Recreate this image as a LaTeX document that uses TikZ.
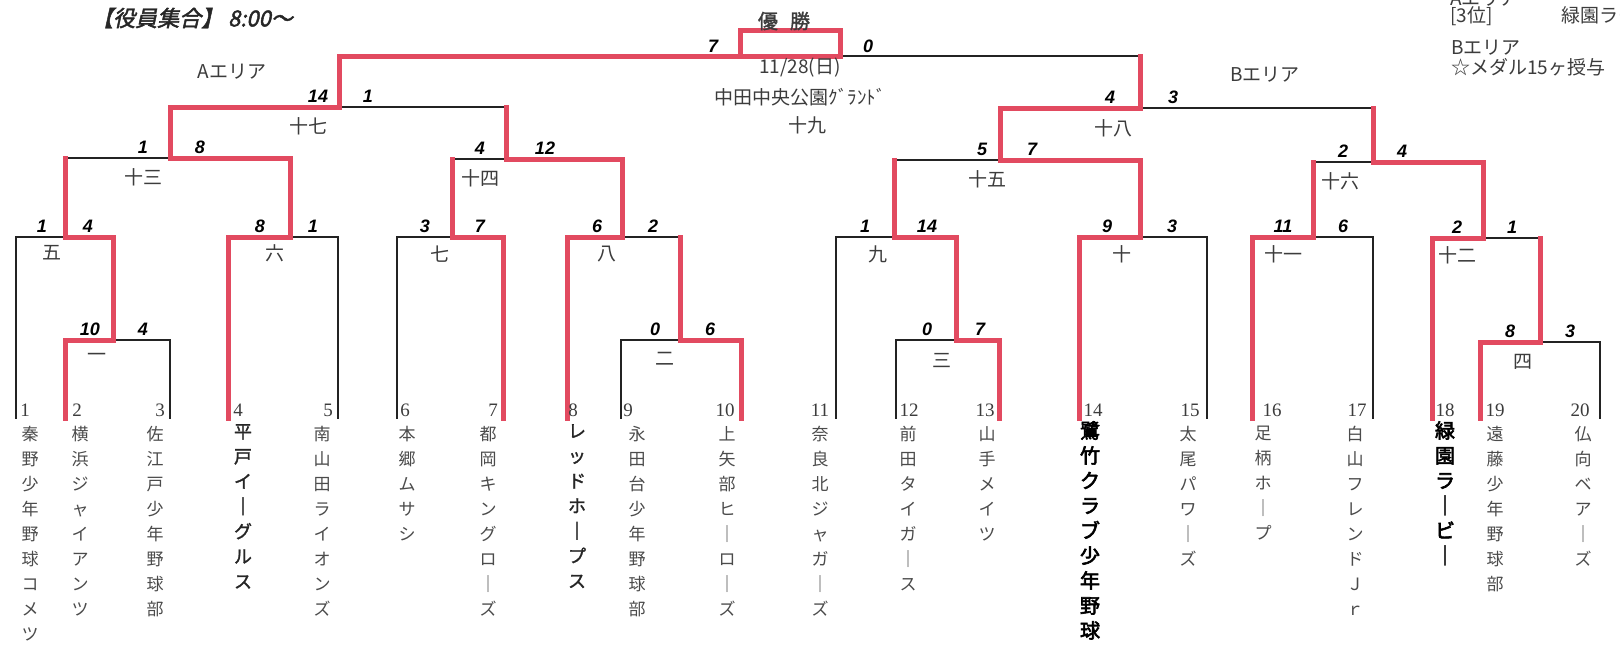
\documentclass[tikz,border=0pt]{standalone}
\usepackage{fontspec}
\setmainfont{Liberation Serif}
\newfontfamily\jp{Noto Sans CJK JP}
\newfontfamily\jpm[FakeBold=1.5]{Noto Sans CJK JP}
\newfontfamily\jpb[FakeBold=3]{Noto Sans CJK JP}
\newfontfamily\jpi[FakeSlant=0.22,FakeBold=2]{Noto Sans CJK JP}
\newfontfamily\scorefont{Liberation Sans}
\definecolor{bred}{RGB}{226,74,96}
\definecolor{lineblack}{RGB}{35,35,35}
\definecolor{txtgray}{RGB}{60,60,60}
\definecolor{namegray}{RGB}{75,75,75}
\newcommand\mdef[5]{\coordinate (#1L) at (#3,#2); \coordinate (#1S) at (#4,#2); \coordinate (#1R) at (#5,#2);}
\begin{document}
\begin{tikzpicture}[x=1pt,y=-1pt,
  bl/.style={draw=lineblack,line width=2pt,line cap=rect},
  rd/.style={draw=bred,line width=5pt,line cap=rect},
  score/.style={font=\scorefont\bfseries\itshape\fontsize{18}{18}\selectfont,text=black,inner sep=0pt},
  mlab/.style={font=\jp\fontsize{19}{19}\selectfont,text=txtgray,inner sep=0pt},
  tnum/.style={font=\fontsize{19}{19}\selectfont,text=txtgray,inner sep=0pt},
  team/.style={anchor=north,align=center,inner sep=0pt,font=\jp\fontsize{17}{25}\selectfont,text=namegray},
  teamm/.style={team,font=\jpm\fontsize{18}{25}\selectfont,text=black!85},
  teamb/.style={team,font=\jpb\fontsize{20}{25}\selectfont,text=black},
  info/.style={font=\jp\fontsize{19}{19}\selectfont,text=txtgray,inner sep=0pt},
]
\useasboundingbox (0,0) rectangle (1620,653);
\clip (0,0) rectangle (1620,653);
\fill[white] (0,0) rectangle (1620,653);

% ---------- match coordinates ----------
\mdef{m1}{340}{65}{113}{170}
\mdef{m2}{340}{621}{680}{741}
\mdef{m3}{340}{896}{956}{999}
\mdef{m4}{342}{1480}{1540}{1600}
\mdef{m5}{237}{16}{65}{113}
\mdef{m6}{237}{228}{290}{338}
\mdef{m7}{237}{397}{452}{503}
\mdef{m8}{237}{567}{622}{680}
\mdef{m9}{237}{836}{894}{956}
\mdef{m10}{237}{1079}{1140}{1207}
\mdef{m11}{237}{1252}{1313}{1373}
\mdef{m12}{238}{1432}{1483}{1540}
\mdef{m13}{158}{65}{170}{290}
\mdef{m14}{159}{452}{506}{622}
\mdef{m15}{160}{894}{1000}{1140}
\mdef{m16}{162}{1313}{1373}{1483}
\mdef{m17}{107}{170}{339}{506}
\mdef{m18}{108}{1000}{1140}{1373}
\coordinate (fL) at (339,56);
\coordinate (fR) at (1140,56);
\coordinate (bxA) at (740,56);
\coordinate (bxB) at (740,30);
\coordinate (bxC) at (840,30);
\coordinate (bxD) at (840,56);
\coordinate (bot) at (0,418);
% team line ends
\coordinate (T1) at (m5L |- bot);
\coordinate (T2) at (m1L |- bot);
\coordinate (T3) at (m1R |- bot);
\coordinate (T4) at (m6L |- bot);
\coordinate (T5) at (m6R |- bot);
\coordinate (T6) at (m7L |- bot);
\coordinate (T7) at (m7R |- bot);
\coordinate (T8) at (m8L |- bot);
\coordinate (T9) at (m2L |- bot);
\coordinate (T10) at (m2R |- bot);
\coordinate (T11) at (m9L |- bot);
\coordinate (T12) at (m3L |- bot);
\coordinate (T13) at (m3R |- bot);
\coordinate (T14) at (m10L |- bot);
\coordinate (T15) at (m10R |- bot);
\coordinate (T16) at (m11L |- bot);
\coordinate (T17) at (m11R |- bot);
\coordinate (T18) at (m12L |- bot);
\coordinate (T19) at (m4L |- bot);
\coordinate (T20) at (m4R |- bot);

% ---------- black (losing) lines ----------
\foreach \a/\b in {T1/m5L,T3/m1R,T5/m6R,T6/m7L,T9/m2L,T11/m9L,T12/m3L,T15/m10R,T17/m11R,T20/m4R,
  m1S/m1R,m2L/m2S,m3L/m3S,m4S/m4R,m5L/m5S,m6S/m6R,m7L/m7S,m8S/m8R,m9L/m9S,m10S/m10R,m11S/m11R,m12S/m12R,
  m13L/m13S,m14L/m14S,m15L/m15S,m16L/m16S,m17S/m17R,m18S/m18R,bxD/fR}
  \draw[bl] (\a) -- (\b);

% ---------- red (winning) lines ----------
\foreach \a/\b in {T2/m1L,T4/m6L,T7/m7R,T8/m8L,T10/m2R,T13/m3R,T14/m10L,T16/m11L,T18/m12L,T19/m4L,
  m1L/m1S,m2S/m2R,m3S/m3R,m4L/m4S,m5S/m5R,m6L/m6S,m7S/m7R,m8L/m8S,m9S/m9R,m10L/m10S,m11L/m11S,m12L/m12S,
  m13S/m13R,m14S/m14R,m15S/m15R,m16S/m16R,m17L/m17S,m18L/m18S,
  m1S/m5R,m2S/m8R,m3S/m9R,m4S/m12R,m5S/m13L,m6S/m13R,m7S/m14L,m8S/m14R,m9S/m15L,m10S/m15R,m11S/m16L,m12S/m16R,
  m13S/m17L,m14S/m17R,m15S/m18L,m16S/m18R,m17S/fL,m18S/fR,fL/bxA}
  \draw[rd] (\a) -- (\b);
\draw[rd,line join=miter] (bxA) -- (bxB) -- (bxC) -- (bxD) -- cycle;

% ---------- scores ----------
\node[score] (s1a) at (90,329) {10};   \node[score] (s1b) at (143,329) {4};
\node[score] (s2a) at (655,329) {0};   \node[score] (s2b) at (710,329) {6};
\node[score] (s3a) at (927,329) {0};   \node[score] (s3b) at (980,329) {7};
\node[score] (s4a) at (1510,331) {8};  \node[score] (s4b) at (1570,331) {3};
\node[score] (s5a) at (42,226) {1};    \node[score] (s5b) at (88,226) {4};
\node[score] (s6a) at (260,226) {8};   \node[score] (s6b) at (313,226) {1};
\node[score] (s7a) at (425,226) {3};   \node[score] (s7b) at (480,226) {7};
\node[score] (s8a) at (597,226) {6};   \node[score] (s8b) at (653,226) {2};
\node[score] (s9a) at (865,226) {1};   \node[score] (s9b) at (927,226) {14};
\node[score] (s10a) at (1107,226) {9}; \node[score] (s10b) at (1172,226) {3};
\node[score] (s11a) at (1283,226) {11};\node[score] (s11b) at (1343,226) {6};
\node[score] (s12a) at (1457,227) {2}; \node[score] (s12b) at (1512,227) {1};
\node[score] (s13a) at (143,147) {1};  \node[score] (s13b) at (200,147) {8};
\node[score] (s14a) at (480,148) {4};  \node[score] (s14b) at (545,148) {12};
\node[score] (s15a) at (982,149) {5};  \node[score] (s15b) at (1032,149) {7};
\node[score] (s16a) at (1343,151) {2}; \node[score] (s16b) at (1402,151) {4};
\node[score] (s17a) at (318,96) {14};  \node[score] (s17b) at (368,96) {1};
\node[score] (s18a) at (1110,97) {4};  \node[score] (s18b) at (1173,97) {3};
\node[score] (s19a) at (713,46) {7};   \node[score] (s19b) at (868,46) {0};

% ---------- match labels ----------
\node[mlab] (l1) at (97,357) {一};
\node[mlab] (l2) at (665,359) {二};
\node[mlab] (l3) at (942,361) {三};
\node[mlab] (l4) at (1523,362) {四};
\node[mlab] (l5) at (52,253) {五};
\node[mlab] (l6) at (275,253) {六};
\node[mlab] (l7) at (440,254) {七};
\node[mlab] (l8) at (607,254) {八};
\node[mlab] (l9) at (878,254) {九};
\node[mlab] (l10) at (1122,254) {十};
\node[mlab] (l11) at (1283,254) {十一};
\node[mlab] (l12) at (1457,255) {十二};
\node[mlab] (l13) at (143,177) {十三};
\node[mlab] (l14) at (480,178) {十四};
\node[mlab] (l15) at (987,179) {十五};
\node[mlab] (l16) at (1340,181) {十六};
\node[mlab] (l17) at (308,126) {十七};
\node[mlab] (l18) at (1113,128) {十八};
\node[mlab] (l19) at (807,125) {十九};

% ---------- centre / header texts ----------
\node[info,font=\jpm\fontsize{20}{20}\selectfont] (win) at (784,21) {優\hspace{0.6em}勝};
\node[info] (date) at (800,68) {11/28(日)};
\node[info] (place) at (800,97) {中田中央公園ｸﾞﾗﾝﾄﾞ};
\node[info] (areaA) at (232,72) {Aエリア};
\node[info] (areaB) at (1265,75) {Bエリア};
\node[inner sep=0pt,font=\jpi\fontsize{22}{22}\selectfont,text=black!85] (meet) at (192,18) {【役員集合】 8:00〜};
\node[info,anchor=south west] (rA) at (1450,6) {Aエリア};
\node[info,anchor=west] (r3) at (1450,16) {[3位]\hspace{3.6em}緑園ラービー};
\node[info,anchor=west] (rB) at (1451,48) {Bエリア};
\node[info,anchor=west] (rM) at (1451,67) {☆メダル15ヶ授与};

% ---------- team numbers ----------
\foreach \n/\x in {1/25,2/77,3/160,4/238,5/328,6/405,7/493,8/573,9/628,10/725,11/820,12/909,13/985,14/1093,15/1190,16/1272,17/1357,18/1445,19/1495,20/1580}
  \node[tnum] (n\n) at (\x,410) {\n};

% ---------- team names ----------
\node[team]  (t1)  at (30,426)  {秦\\野\\少\\年\\野\\球\\コ\\メ\\ツ};
\node[team]  (t2)  at (80,426)  {横\\浜\\ジ\\ャ\\イ\\ア\\ン\\ツ};
\node[team]  (t3)  at (155,426) {佐\\江\\戸\\少\\年\\野\\球\\部};
\node[teamm] (t4)  at (243,424) {平\\戸\\イ\\｜\\グ\\ル\\ス};
\node[team]  (t5)  at (322,426) {南\\山\\田\\ラ\\イ\\オ\\ン\\ズ};
\node[team]  (t6)  at (407,426) {本\\郷\\ム\\サ\\シ};
\node[team]  (t7)  at (488,426) {都\\岡\\キ\\ン\\グ\\ロ\\｜\\ズ};
\node[teamm] (t8)  at (577,424) {レ\\ッ\\ド\\ホ\\｜\\プ\\ス};
\node[team]  (t9)  at (637,426) {永\\田\\台\\少\\年\\野\\球\\部};
\node[team]  (t10) at (727,426) {上\\矢\\部\\ヒ\\｜\\ロ\\｜\\ズ};
\node[team]  (t11) at (820,426) {奈\\良\\北\\ジ\\ャ\\ガ\\｜\\ズ};
\node[team]  (t12) at (908,426) {前\\田\\タ\\イ\\ガ\\｜\\ス};
\node[team]  (t13) at (987,426) {山\\手\\メ\\イ\\ツ};
\node[teamb] (t14) at (1090,421) {鷺\\竹\\ク\\ラ\\ブ\\少\\年\\野\\球};
\node[team]  (t15) at (1188,426) {太\\尾\\パ\\ワ\\｜\\ズ};
\node[team]  (t16) at (1263,426) {足\\柄\\ホ\\｜\\プ};
\node[team]  (t17) at (1355,426) {白\\山\\フ\\レ\\ン\\ド\\Ｊ\\ｒ};
\node[teamb] (t18) at (1445,421) {緑\\園\\ラ\\｜\\ビ\\｜};
\node[team]  (t19) at (1495,426) {遠\\藤\\少\\年\\野\\球\\部};
\node[team]  (t20) at (1583,426) {仏\\向\\ベ\\ア\\｜\\ズ};
\end{tikzpicture}
\end{document}
